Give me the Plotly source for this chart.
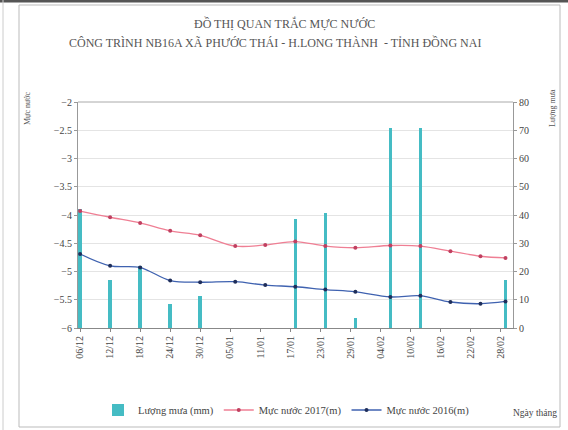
import plotly.graph_objects as go

# ---------------- data ----------------
dates = ["2016-12-06", "2016-12-12", "2016-12-18", "2016-12-24", "2016-12-30",
         "2017-01-06", "2017-01-12", "2017-01-18", "2017-01-24", "2017-01-30",
         "2017-02-06", "2017-02-12", "2017-02-18", "2017-02-24", "2017-03-01"]
rain_mm = [42, 17, 22, 8.5, 11.3, 0, 0, 38.5, 40.8, 3.4, 70.7, 70.7, 0, 0, 17]
level_2017 = [-3.93, -4.04, -4.14, -4.28, -4.36, -4.55, -4.53, -4.47,
              -4.55, -4.58, -4.54, -4.55, -4.64, -4.73, -4.76]
level_2016 = [-4.69, -4.90, -4.93, -5.16, -5.19, -5.18, -5.24, -5.27,
              -5.32, -5.36, -5.45, -5.43, -5.54, -5.57, -5.53]
tick_dates = ["2016-12-06", "2016-12-12", "2016-12-18", "2016-12-24", "2016-12-30",
              "2017-01-05", "2017-01-11", "2017-01-17", "2017-01-23", "2017-01-29",
              "2017-02-04", "2017-02-10", "2017-02-16", "2017-02-22", "2017-02-28"]
tick_labels = ["06/12", "12/12", "18/12", "24/12", "30/12", "05/01", "11/01", "17/01",
               "23/01", "29/01", "04/02", "10/02", "16/02", "22/02", "28/02"]

SERIF = "Liberation Serif"
W, H = 568, 430
L, R, T, B = 78, 55, 102, 102
PW, PH = W - L - R, H - T - B


def px(x):
    return (x - L) / PW


def py(y):
    return (H - B - y) / PH


fig = go.Figure()
fig.add_trace(go.Bar(
    x=dates, y=rain_mm, name="Lượng mưa (mm)", yaxis="y",
    marker=dict(color="#45bcc4", line=dict(width=0)), width=60e6,
))
fig.add_trace(go.Scatter(
    x=dates, y=level_2017, name="Mực nước 2017(m)", yaxis="y2",
    mode="lines+markers", line=dict(color="#ef7f94", width=1.3, shape="spline"),
    marker=dict(color="#c04060", size=4),
))
fig.add_trace(go.Scatter(
    x=dates, y=level_2016, name="Mực nước 2016(m)", yaxis="y2",
    mode="lines+markers", line=dict(color="#3f62b0", width=1.3, shape="spline"),
    marker=dict(color="#1f2e5a", size=4),
))

tickfont = dict(family=SERIF, size=10, color="#444")
fig.update_layout(
    width=W, height=H,
    margin=dict(l=L, r=R, t=T, b=B, autoexpand=False),
    paper_bgcolor="white", plot_bgcolor="white",
    showlegend=True,
    legend=dict(orientation="h", xref="container", x=98 / W,
                yref="container", y=(H - 410) / H, yanchor="middle",
                xanchor="left", font=dict(family=SERIF, size=10.5, color="#444"),
                itemwidth=30, tracegroupgap=0, bgcolor="rgba(0,0,0,0)"),
    bargap=0,
    xaxis=dict(
        type="date", range=["2016-12-05 14:00", "2017-03-02 12:00"],
        tickvals=tick_dates, ticktext=tick_labels, tickangle=-90,
        tickfont=tickfont, showgrid=False, showline=True, linecolor="#888",
        linewidth=1, ticks="outside", ticklen=3, tickcolor="#888", zeroline=False,
        automargin=False,
    ),
    yaxis=dict(
        side="right", range=[0, 80], dtick=10, tickfont=tickfont,
        showgrid=False, showline=True, linecolor="#999", ticks="outside",
        ticklen=3, tickcolor="#999", zeroline=False, automargin=False,
    ),
    yaxis2=dict(
        overlaying="y", side="left", range=[-6, -2], dtick=0.5,
        tickfont=tickfont, showgrid=True, gridcolor="#e4e4e4", gridwidth=1,
        showline=True, linecolor="#999", ticks="outside", ticklen=3,
        tickcolor="#999", zeroline=False, automargin=False,
    ),
    annotations=[
        dict(text="ĐỒ THỊ QUAN TRẮC MỰC NƯỚC", xref="paper", yref="paper",
             x=px(284), y=py(24), xanchor="center", yanchor="middle", showarrow=False,
             font=dict(family=SERIF, size=12, color="#555")),
        dict(text="CÔNG TRÌNH NB16A XÃ PHƯỚC THÁI - H.LONG THÀNH  - TỈNH ĐỒNG NAI",
             xref="paper", yref="paper", x=px(275), y=py(43), xanchor="center",
             yanchor="middle", showarrow=False,
             font=dict(family=SERIF, size=12, color="#555")),
        dict(text="Mực nước", xref="paper", yref="paper", x=px(27), y=py(108),
             xanchor="center", yanchor="middle", textangle=-90, showarrow=False,
             font=dict(family=SERIF, size=8, color="#555")),
        dict(text="Lượng mưa", xref="paper", yref="paper", x=px(552), y=py(108),
             xanchor="center", yanchor="middle", textangle=-90, showarrow=False,
             font=dict(family=SERIF, size=8, color="#555")),
        dict(text="Ngày tháng", xref="paper", yref="paper", x=px(535), y=py(413),
             xanchor="center", yanchor="middle", showarrow=False,
             font=dict(family=SERIF, size=9.5, color="#444")),
    ],
    shapes=[
        dict(type="rect", xref="paper", yref="paper", x0=px(19), x1=px(560),
             y0=py(427), y1=py(5), line=dict(color="#bbb", width=1)),
        dict(type="line", xref="paper", yref="paper", x0=px(0), x1=px(568),
             y0=py(1), y1=py(1), line=dict(color="#555", width=3)),
        dict(type="line", xref="paper", yref="paper", x0=px(3), x1=px(3),
             y0=py(0), y1=py(430), line=dict(color="#ccc", width=1)),
        dict(type="line", xref="paper", yref="paper", x0=px(78), x1=px(513),
             y0=py(102), y1=py(102), line=dict(color="#aaa", width=1)),
    ],
)

fig.write_html("out.html", config={"displayModeBar": False},
               post_script="document.body.style.margin='0';document.body.style.overflow='hidden';")
